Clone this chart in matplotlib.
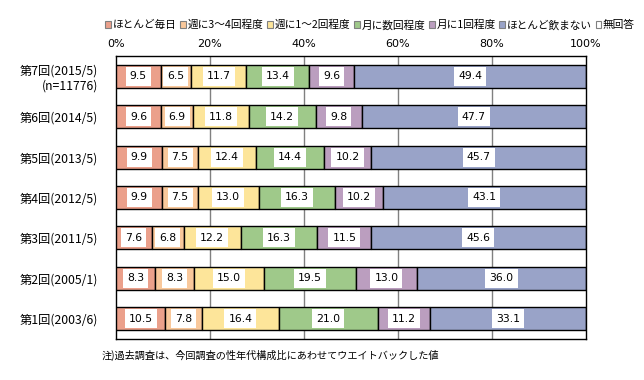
import matplotlib
matplotlib.use("Agg")
import matplotlib.pyplot as plt
from matplotlib.patches import Patch, Rectangle
import numpy as np

plt.rcParams['font.family'] = ['Noto Sans CJK JP', 'DejaVu Sans']

categories = ["第7回(2015/5)\n(n=11776)", "第6回(2014/5)", "第5回(2013/5)", "第4回(2012/5)",
              "第3回(2011/5)", "第2回(2005/1)", "第1回(2003/6)"]
series_names = ["ほとんど毎日", "週に3～4回程度", "週に1～2回程度", "月に数回程度",
                "月に1回程度", "ほとんど飲まない", "無回答"]
mainichi   = [9.5, 9.6, 9.9, 9.9, 7.6, 8.3, 10.5]
shu34      = [6.5, 6.9, 7.5, 7.5, 6.8, 8.3, 7.8]
shu12      = [11.7, 11.8, 12.4, 13.0, 12.2, 15.0, 16.4]
tsuki_su   = [13.4, 14.2, 14.4, 16.3, 16.3, 19.5, 21.0]
tsuki_1    = [9.6, 9.8, 10.2, 10.2, 11.5, 13.0, 11.2]
nomanai    = [49.4, 47.7, 45.7, 43.1, 45.6, 36.0, 33.1]
mukaitou   = [0.0, 0.0, 0.0, 0.0, 0.0, 0.0, 0.0]
xticks = [0, 20, 40, 60, 80, 100]
xtick_labels = ["0%", "20%", "40%", "60%", "80%", "100%"]

series = [mainichi, shu34, shu12, tsuki_su, tsuki_1, nomanai, mukaitou]
colors = ["#EBA08B", "#F9C89B", "#FDE59A", "#9FC98A", "#BB9EBF", "#99A3C8", "#FFFFFF"]

fig = plt.figure(figsize=(6.44, 3.80), dpi=100)
ax = fig.add_axes([116/644, 1-339/380, (585.5-116)/644, (339-56)/380])

y = np.arange(len(categories))
left = np.zeros(len(categories))
labels = []
for vals, col, name in zip(series, colors, series_names):
    vals = np.array(vals)
    ax.barh(y, vals, left=left, height=0.57, color=col, edgecolor="black",
            linewidth=1.0, zorder=3, label=name)
    for yi, (l, v) in enumerate(zip(left, vals)):
        if v >= 5:
            t = ax.text(l + v/2, yi, f"{v:.1f}", ha="center", va="center", fontsize=7.8,
                        family="DejaVu Sans", zorder=5)
            labels.append((t, l + v/2, yi))
    left += vals

ax.set_xlim(0, 100)
ax.set_ylim(len(categories)-0.5, -0.5)
ax.set_yticks(y)
ax.set_yticklabels(categories, fontsize=8.8, ha="right", multialignment="right")
ax.tick_params(axis="y", length=0, pad=13)
ax.xaxis.tick_top()
ax.set_xticks(xticks)
ax.set_xticklabels(xtick_labels, fontsize=8, family="DejaVu Sans")
ax.tick_params(axis="x", length=0, pad=5)
for xv in [20, 40, 60, 80]:
    ax.axvline(xv, color="#808080", linewidth=1, zorder=1)
for s in ax.spines.values():
    s.set_color("black")
    s.set_linewidth(1)

# white label boxes sized from the rendered text
fig.canvas.draw()
renderer = fig.canvas.get_renderer()
ax_w_px = ax.get_window_extent().width
ax_h_px = ax.get_window_extent().height
for t, xc, yc in labels:
    bb = t.get_window_extent(renderer)
    w = (bb.width + 8) / ax_w_px * 100
    h = 19 / ax_h_px * len(categories)
    ax.add_patch(Rectangle((xc - w/2, yc - h/2), w, h, facecolor="white",
                           edgecolor="none", zorder=4))

handles = [Patch(facecolor=c, edgecolor="#808080", linewidth=0.8) for c in colors]
fig.legend(handles, series_names, loc="center", bbox_to_anchor=(370/644, 1-25/380),
           ncol=7, frameon=False, fontsize=7.7, handlelength=0.55, handleheight=0.55,
           handletextpad=0.15, columnspacing=0.35, borderpad=0)

fig.text(102/644, 1-355/380, "注)過去調査は、今回調査の性年代構成比にあわせてウエイトバックした値",
         fontsize=7.3, va="center", ha="left")

fig.savefig("out.png", dpi=100)
